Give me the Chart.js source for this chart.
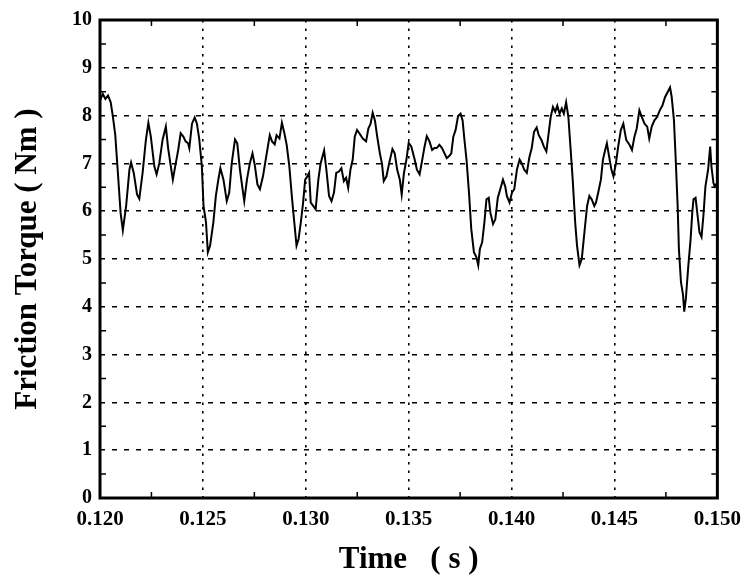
<!DOCTYPE html>
<html>
<head>
<meta charset="utf-8">
<script src="https://cdn.jsdelivr.net/npm/chart.js@4/dist/chart.umd.min.js"></script>
<style>
  html, body { margin: 0; padding: 0; background: #fff; }
  #wrap { width: 750px; height: 582px; }
</style>
</head>
<body>
<div id="wrap"><canvas id="torqueChart" width="750" height="582"></canvas></div>
<script>
// Time samples (s)
const time = [
  0.12000, 0.12014, 0.12026, 0.12039, 0.12052, 0.12063, 0.12074, 0.12087, 0.12100, 0.12111,
  0.12127, 0.12143, 0.12151, 0.12164, 0.12180, 0.12191, 0.12207, 0.12223, 0.12235, 0.12247,
  0.12264, 0.12275, 0.12288, 0.12304, 0.12320, 0.12331, 0.12344, 0.12354, 0.12368, 0.12380,
  0.12392, 0.12405, 0.12416, 0.12428, 0.12434, 0.12447, 0.12460, 0.12471, 0.12482, 0.12495,
  0.12503, 0.12515, 0.12524, 0.12535, 0.12551, 0.12563, 0.12575, 0.12585, 0.12600, 0.12616,
  0.12628, 0.12640, 0.12656, 0.12667, 0.12680, 0.12691, 0.12701, 0.12714, 0.12728, 0.12741,
  0.12752, 0.12765, 0.12777, 0.12792, 0.12809, 0.12825, 0.12836, 0.12849, 0.12858, 0.12872,
  0.12884, 0.12896, 0.12907, 0.12920, 0.12932, 0.12944, 0.12955, 0.12965, 0.12976, 0.12987,
  0.12997, 0.13008, 0.13016, 0.13024, 0.13036, 0.13048, 0.13061, 0.13072, 0.13089, 0.13100,
  0.13113, 0.13125, 0.13137, 0.13148, 0.13161, 0.13173, 0.13185, 0.13196, 0.13206, 0.13217,
  0.13228, 0.13238, 0.13249, 0.13260, 0.13277, 0.13293, 0.13304, 0.13315, 0.13325, 0.13336,
  0.13347, 0.13360, 0.13370, 0.13379, 0.13392, 0.13405, 0.13421, 0.13432, 0.13444, 0.13457,
  0.13466, 0.13477, 0.13489, 0.13500, 0.13513, 0.13529, 0.13540, 0.13553, 0.13566, 0.13577,
  0.13588, 0.13601, 0.13614, 0.13625, 0.13636, 0.13649, 0.13662, 0.13674, 0.13685, 0.13698,
  0.13707, 0.13717, 0.13728, 0.13740, 0.13752, 0.13762, 0.13771, 0.13781, 0.13793, 0.13804,
  0.13817, 0.13829, 0.13838, 0.13846, 0.13857, 0.13868, 0.13878, 0.13889, 0.13897, 0.13910,
  0.13921, 0.13933, 0.13945, 0.13958, 0.13969, 0.13977, 0.13990, 0.14002, 0.14013, 0.14026,
  0.14039, 0.14050, 0.14061, 0.14074, 0.14087, 0.14098, 0.14109, 0.14122, 0.14132, 0.14145,
  0.14157, 0.14169, 0.14180, 0.14190, 0.14201, 0.14212, 0.14222, 0.14233, 0.14244, 0.14254,
  0.14265, 0.14276, 0.14286, 0.14297, 0.14309, 0.14318, 0.14330, 0.14341, 0.14354, 0.14367,
  0.14378, 0.14389, 0.14402, 0.14410, 0.14421, 0.14434, 0.14444, 0.14453, 0.14463, 0.14474,
  0.14485, 0.14495, 0.14507, 0.14518, 0.14531, 0.14543, 0.14557, 0.14573, 0.14585, 0.14597,
  0.14608, 0.14621, 0.14633, 0.14646, 0.14659, 0.14669, 0.14681, 0.14694, 0.14707, 0.14720,
  0.14733, 0.14746, 0.14758, 0.14770, 0.14778, 0.14789, 0.14797, 0.14807, 0.14813, 0.14823,
  0.14833, 0.14839, 0.14847, 0.14859, 0.14870, 0.14878, 0.14884, 0.14894, 0.14904, 0.14913,
  0.14923, 0.14932, 0.14942, 0.14955, 0.14965, 0.14971, 0.14981, 0.14987, 0.15000
];

// Friction torque (Nm) at each time sample
const torque = [
  8.32, 8.45, 8.35, 8.42, 8.28, 7.97, 7.60, 6.80, 5.97, 5.60,
  6.11, 6.87, 7.02, 6.80, 6.35, 6.26, 6.80, 7.49, 7.85, 7.56,
  6.94, 6.77, 7.00, 7.49, 7.77, 7.32, 6.94, 6.66, 7.00, 7.28,
  7.63, 7.56, 7.46, 7.42, 7.32, 7.83, 7.96, 7.83, 7.52, 6.94,
  6.11, 5.77, 5.14, 5.28, 5.77, 6.32, 6.66, 6.90, 6.66, 6.21,
  6.39, 7.00, 7.50, 7.42, 6.87, 6.52, 6.21, 6.66, 7.00, 7.21,
  6.97, 6.56, 6.46, 6.73, 7.18, 7.59, 7.46, 7.40, 7.59, 7.52,
  7.85, 7.63, 7.39, 6.94, 6.32, 5.77, 5.28, 5.42, 5.77, 6.18,
  6.66, 6.73, 6.80, 6.18, 6.11, 6.04, 6.66, 7.00, 7.27, 6.87,
  6.32, 6.21, 6.39, 6.80, 6.83, 6.90, 6.63, 6.70, 6.49, 6.87,
  7.08, 7.56, 7.70, 7.63, 7.52, 7.46, 7.73, 7.83, 8.06, 7.90,
  7.56, 7.21, 7.00, 6.63, 6.73, 7.00, 7.30, 7.21, 6.87, 6.66,
  6.35, 6.80, 7.08, 7.43, 7.35, 7.08, 6.87, 6.77, 7.08, 7.35,
  7.57, 7.46, 7.28, 7.32, 7.32, 7.39, 7.32, 7.21, 7.11, 7.16,
  7.21, 7.56, 7.70, 7.99, 8.04, 7.90, 7.49, 7.08, 6.39, 5.63,
  5.14, 5.04, 4.87, 5.21, 5.35, 5.77, 6.25, 6.28, 5.97, 5.73,
  5.83, 6.28, 6.46, 6.66, 6.52, 6.32, 6.18, 6.39, 6.46, 6.87,
  7.08, 7.00, 6.87, 6.80, 7.14, 7.32, 7.66, 7.75, 7.59, 7.49,
  7.35, 7.25, 7.63, 7.97, 8.18, 8.08, 8.21, 8.04, 8.15, 8.04,
  8.28, 7.97, 7.35, 6.66, 5.77, 5.28, 4.87, 5.00, 5.56, 6.11,
  6.32, 6.25, 6.11, 6.18, 6.39, 6.66, 7.08, 7.25, 7.42, 7.14,
  6.87, 6.73, 7.00, 7.35, 7.70, 7.83, 7.49, 7.39, 7.28, 7.56,
  7.73, 8.11, 7.97, 7.83, 7.77, 7.52, 7.77, 7.90, 7.97, 8.11,
  8.21, 8.39, 8.49, 8.59, 8.39, 7.90, 7.14, 6.11, 5.21, 4.52,
  4.25, 3.90, 4.18, 4.87, 5.42, 5.97, 6.25, 6.28, 5.90, 5.56,
  5.46, 5.90, 6.52, 6.87, 7.35, 6.94, 6.59, 6.52, 6.60
];

// Axis ranges and tick steps
const xRange = [0.12, 0.15];
const yRange = [0, 10];
const xStep = 0.005;
const yStep = 1;

const serif = "'Liberation Serif', 'DejaVu Serif', serif";

// Box frame plus small inward minor ticks on all four sides
const frameAndMinorTicks = {
  id: "frameAndMinorTicks",
  afterDraw(chart) {
    const ctx = chart.ctx;
    const a = chart.chartArea;
    const xs = chart.scales.x;
    const ys = chart.scales.y;
    const len = 6;
    ctx.save();
    ctx.strokeStyle = "#000";
    ctx.lineWidth = 1.5;
    ctx.beginPath();
    for (let v = yRange[0] + yStep / 2; v < yRange[1]; v += yStep) {
      const py = ys.getPixelForValue(v);
      ctx.moveTo(a.left, py); ctx.lineTo(a.left + len, py);
      ctx.moveTo(a.right, py); ctx.lineTo(a.right - len, py);
    }
    for (let v = xRange[0] + xStep / 2; v < xRange[1]; v += xStep) {
      const px = xs.getPixelForValue(v);
      ctx.moveTo(px, a.bottom); ctx.lineTo(px, a.bottom - len);
      ctx.moveTo(px, a.top); ctx.lineTo(px, a.top + len);
    }
    ctx.stroke();
    ctx.lineWidth = 3;
    ctx.strokeRect(a.left, a.top, a.right - a.left, a.bottom - a.top);
    ctx.restore();
  }
};

const ctx = document.getElementById("torqueChart").getContext("2d");

new Chart(ctx, {
  type: "line",
  data: {
    datasets: [{
      label: "Friction Torque",
      data: time.map((t, i) => ({ x: t, y: torque[i] })),
      borderColor: "#000",
      borderWidth: 2,
      pointRadius: 0,
      tension: 0,
      fill: false
    }]
  },
  options: {
    responsive: false,
    animation: false,
    layout: { padding: { top: 16, right: 28, left: 0, bottom: 0 } },
    plugins: {
      legend: { display: false },
      tooltip: { enabled: false }
    },
    scales: {
      x: {
        type: "linear",
        min: xRange[0],
        max: xRange[1],
        afterFit(scale) { scale.height = 84; },
        ticks: {
          stepSize: xStep,
          color: "#000",
          padding: 9,
          maxRotation: 0,
          font: { family: serif, size: 21, weight: "bold" },
          callback: (v) => v.toFixed(3)
        },
        grid: {
          color: (c) => (c.tick && (c.tick.value <= xRange[0] + 1e-9 || c.tick.value >= xRange[1] - 1e-9)) ? "rgba(0,0,0,0)" : "#000",
          lineWidth: 1.6,
          drawTicks: false
        },
        border: { display: false, dash: [2.5, 6] },
        title: {
          display: true,
          text: "Time   ( s )",
          color: "#000",
          font: { family: serif, size: 31, weight: "bold" },
          padding: { top: 0, bottom: 3 }
        }
      },
      y: {
        min: yRange[0],
        max: yRange[1],
        afterFit(scale) { scale.width = 100; },
        ticks: {
          stepSize: yStep,
          color: "#000",
          padding: 8,
          font: { family: serif, size: 20, weight: "bold" }
        },
        grid: {
          color: (c) => (c.tick && (c.tick.value <= yRange[0] || c.tick.value >= yRange[1])) ? "rgba(0,0,0,0)" : "#000",
          lineWidth: 1.6,
          drawTicks: false
        },
        border: { display: false, dash: [5, 7] },
        title: {
          display: true,
          text: "Friction Torque ( Nm )",
          color: "#000",
          font: { family: serif, size: 31, weight: "bold" },
          padding: { top: 9, bottom: 0 }
        }
      }
    }
  },
  plugins: [frameAndMinorTicks]
});
</script>
</body>
</html>
